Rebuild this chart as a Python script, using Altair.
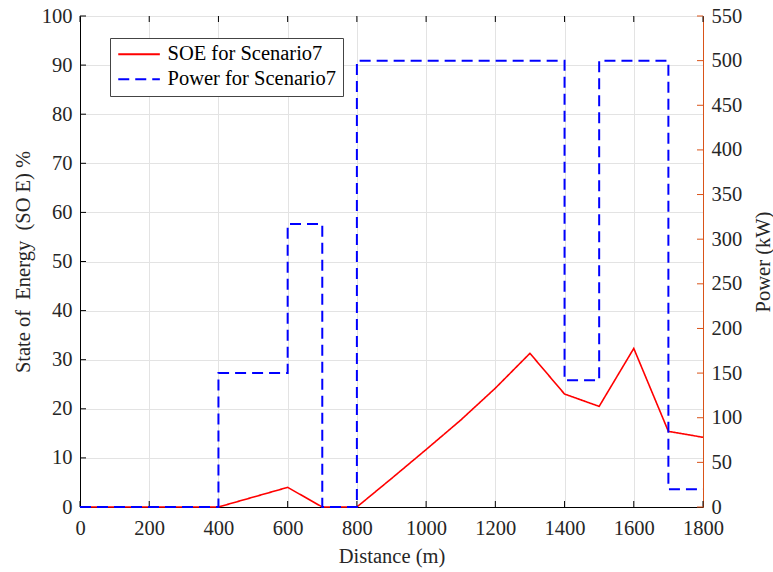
import altair as alt
import pandas as pd

# State of energy along the route (%)
distance_soe = [0, 100, 200, 300, 400, 600, 700, 800, 900, 1000, 1100, 1200, 1300, 1400, 1500, 1600, 1700, 1800]
soe_pct = [0, 0, 0, 0, 0, 4.0, 0, 0, 5.8, 11.7, 17.7, 24.2, 31.3, 23.0, 20.5, 32.3, 15.4, 14.2]

# Piecewise-constant power demand (kW); each value holds until the next distance
distance_power = [0, 400, 600, 700, 800, 1400, 1500, 1700, 1800]
power_kw = [0, 150, 317, 0, 500, 142, 500, 20, 20]

# Tick values
x_ticks = list(range(0, 1801, 200))
soe_ticks = list(range(0, 101, 10))
power_ticks = list(range(0, 551, 50))

series_names = ["SOE for Scenario7", "Power for Scenario7"]

W, H = 623, 491
FONT = "Liberation Serif"
FS = 20.5
TICK = 6
ORANGE = "#D95319"
TXT = "#262626"

soe_df = pd.DataFrame({"d": distance_soe, "v": soe_pct, "series": series_names[0]})
pow_df = pd.DataFrame({"d": distance_power, "v": power_kw, "series": series_names[1]})
xt_df = pd.DataFrame({"t": x_ticks})
st_df = pd.DataFrame({"t": soe_ticks})
pt_df = pd.DataFrame({"t": power_ticks})

x_scale = alt.Scale(domain=[0, 1800], nice=False)
x_axis = alt.Axis(
    values=x_ticks, format="d", grid=True, gridColor="#e3e3e3", tickSize=0, domainColor="black",
    labelFont=FONT, labelFontSize=FS, labelColor=TXT, labelPadding=11, labelFlush=False,
    title="Distance (m)", titleFont=FONT, titleFontSize=FS, titleFontWeight="normal",
    titleColor=TXT, titlePadding=8,
)
soe_scale = alt.Scale(domain=[0, 100], nice=False)
soe_axis = alt.Axis(
    values=soe_ticks, format="d", grid=True, gridColor="#e3e3e3", tickSize=0, domainColor="black",
    labelFont=FONT, labelFontSize=FS, labelColor=TXT, labelPadding=8, labelFlush=False,
    title="State of\u00a0 Energy\u00a0 (SO E) %", titleFont=FONT, titleFontSize=FS,
    titleFontWeight="normal", titleColor=TXT, titleBaseline="middle", titleX=-57,
)
pow_scale = alt.Scale(domain=[0, 550], nice=False)
pow_axis = alt.Axis(
    orient="right", values=power_ticks, format="d", grid=False, tickSize=0, domainColor=ORANGE,
    labelFont=FONT, labelFontSize=FS, labelColor=TXT, labelPadding=8, labelFlush=False,
    title="Power (kW)", titleFont=FONT, titleFontSize=FS, titleFontWeight="normal",
    titleColor=TXT, titleAngle=270, titleBaseline="middle", titleX=60,
)

color = alt.Color(
    "series:N",
    scale=alt.Scale(domain=series_names, range=["#ff0000", "#0000ff"]),
    legend=alt.Legend(
        title=None, orient="none", legendX=30, legendY=22, direction="vertical",
        fillColor="white", strokeColor="#444", padding=6, rowPadding=4,
        labelFont=FONT, labelFontSize=FS, labelColor="black", labelOffset=31, labelLimit=400,
        symbolType="M-1,0H4.2", symbolSize=256, symbolStrokeWidth=2,
    ),
)
dash = alt.StrokeDash(
    "series:N",
    scale=alt.Scale(domain=series_names, range=[[1, 0], [11, 6]]),
    legend=None,
)

soe_line = alt.Chart(soe_df).mark_line(strokeWidth=1.6).encode(
    x=alt.X("d:Q", scale=x_scale, axis=x_axis),
    y=alt.Y("v:Q", scale=soe_scale, axis=soe_axis),
    color=color,
    strokeDash=dash,
)

# Inward ticks: bottom/top along x, left along SOE axis
x_ticks_bottom = alt.Chart(xt_df).mark_rule(color="black", strokeWidth=1).encode(
    x=alt.X("t:Q", scale=x_scale, axis=x_axis), y=alt.value(H), y2=alt.value(H - TICK)
)
x_ticks_top = alt.Chart(xt_df).mark_rule(color="black", strokeWidth=1).encode(
    x=alt.X("t:Q", scale=x_scale, axis=x_axis), y=alt.value(0), y2=alt.value(TICK)
)
soe_tick_marks = alt.Chart(st_df).mark_rule(color="black", strokeWidth=1).encode(
    y=alt.Y("t:Q", scale=soe_scale, axis=soe_axis), x=alt.value(0), x2=alt.value(TICK)
)

pow_line = alt.Chart(pow_df).mark_line(strokeWidth=2, interpolate="step-after").encode(
    x=alt.X("d:Q", scale=x_scale, axis=x_axis),
    y=alt.Y("v:Q", scale=pow_scale, axis=pow_axis),
    color=color,
    strokeDash=dash,
)
pow_tick_marks = alt.Chart(pt_df).mark_rule(color=ORANGE, strokeWidth=1).encode(
    y=alt.Y("t:Q", scale=pow_scale, axis=pow_axis), x=alt.value(W), x2=alt.value(W - TICK)
)

left = alt.layer(soe_line, soe_tick_marks, x_ticks_bottom, x_ticks_top)
right = alt.layer(pow_line, pow_tick_marks)

chart = (
    alt.layer(left, right)
    .resolve_scale(y="independent")
    .properties(
        width=W, height=H,
        autosize=alt.AutoSizeParams(type="none"),
        padding={"left": 80, "top": 16, "right": 70, "bottom": 65},
        background="white",
    )
    .configure(font=FONT)
    .configure_view(stroke="black", strokeWidth=1)
    .configure_axis(labelFont=FONT, titleFont=FONT)
    .configure_legend(labelFont=FONT)
)

chart.save("out.html", embed_options={"renderer": "svg", "actions": False})
